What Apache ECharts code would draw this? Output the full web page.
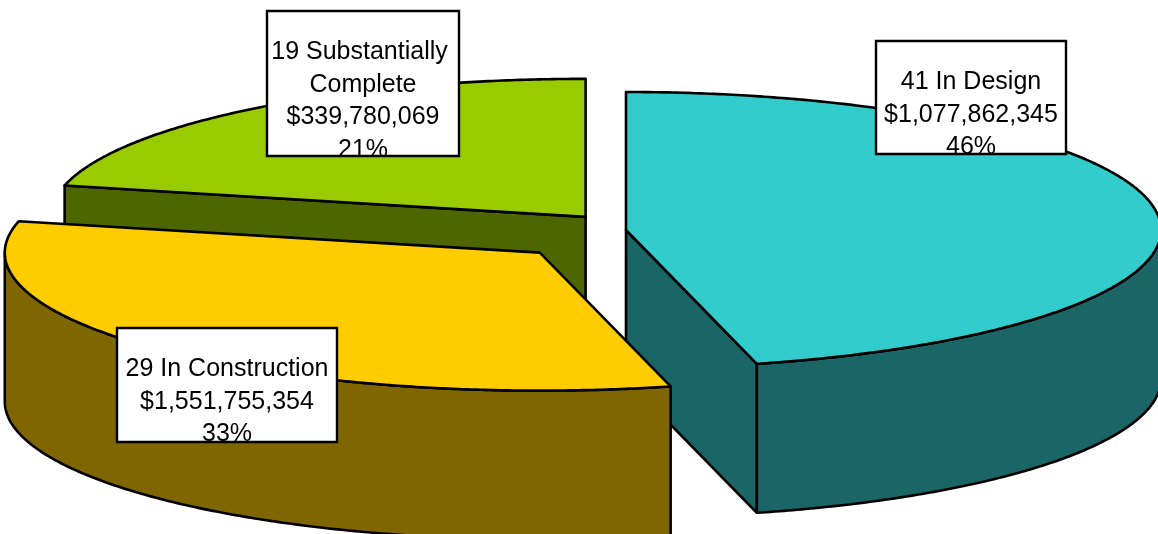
<!DOCTYPE html>
<html><head><meta charset="utf-8">
<script src="https://cdn.jsdelivr.net/npm/echarts@6/dist/echarts.min.js"></script>
<style>html,body{margin:0;padding:0;background:#fff}#chart{width:1158px;height:534px}</style>
</head><body><div id="chart"></div>
<script>
// ---- data ----
const categories = ['In Design', 'In Construction', 'Substantially Complete'];
const projectCounts = [41, 29, 19];
const dollarValues = [1077862345, 1551755354, 339780069];

// ---- styles / layout ----
const topColors = ['#33CCCC', '#FFCC00', '#99CC00'];
const sideColors = ['#1A6666', '#806600', '#4D6600'];
const explodeDist = [0, 123, 65];
const PIE = { cx: 626, cy: 230, rx: 535, ry: 138, depth: 149 };
const labelBoxes = [
  { x: 876, y: 41, w: 190, h: 113 },
  { x: 117, y: 328, w: 220, h: 114 },
  { x: 267, y: 11, w: 192, h: 145 }
];
const FONT = '25px "Liberation Sans", Arial, sans-serif';

const total = projectCounts.reduce((a, b) => a + b, 0);
const startAngles = [];
{ let acc = 0; projectCounts.forEach(v => { startAngles.push(acc / total * Math.PI * 2); acc += v; }); }

function sliceInfo(i) {
  const s = startAngles[i];
  const e = s + projectCounts[i] / total * Math.PI * 2;
  const mid = (s + e) / 2;
  const d = explodeDist[i];
  const c = { x: PIE.cx + d * Math.sin(mid), y: PIE.cy - d * Math.cos(mid) * PIE.ry / PIE.rx };
  return { s, e, mid, c };
}
function pt(c, t, dz) { return [c.x + PIE.rx * Math.sin(t), c.y - PIE.ry * Math.cos(t) + (dz || 0)]; }
function arc(c, a0, a1, dz) {
  const n = Math.max(2, Math.ceil(Math.abs(a1 - a0) / (Math.PI / 360)));
  const out = [];
  for (let k = 0; k <= n; k++) out.push(pt(c, a0 + (a1 - a0) * k / n, dz));
  return out;
}
// back-to-front rank
const order = projectCounts.map((_, i) => i).sort((a, b) => -Math.cos(sliceInfo(a).mid) + Math.cos(sliceInfo(b).mid));
const rank = []; order.forEach((idx, r) => rank[idx] = r);

function renderItem(params, api) {
  const i = params.dataIndex;
  const { s, e, c } = sliceInfo(i);
  const D = PIE.depth;
  const base = rank[i] * 10;
  const line = { stroke: '#000', lineWidth: 2.6, lineJoin: 'round' };
  const children = [];
  if (Math.sin(s) < -1e-6) {
    const p = pt(c, s);
    children.push({ type: 'polygon', z2: base + 1, shape: { points: [[c.x, c.y], p, [p[0], p[1] + D], [c.x, c.y + D]] }, style: Object.assign({ fill: sideColors[i] }, line) });
  }
  if (Math.sin(e) > 1e-6) {
    const p = pt(c, e);
    children.push({ type: 'polygon', z2: base + 1, shape: { points: [[c.x, c.y], p, [p[0], p[1] + D], [c.x, c.y + D]] }, style: Object.assign({ fill: sideColors[i] }, line) });
  }
  const lo = Math.max(s, Math.PI / 2), hi = Math.min(e, Math.PI * 1.5);
  if (hi > lo) {
    const pts = arc(c, lo, hi, 0).concat(arc(c, hi, lo, D));
    children.push({ type: 'polygon', z2: base + 2, shape: { points: pts }, style: Object.assign({ fill: sideColors[i] }, line) });
  }
  const topPts = [[c.x, c.y]].concat(arc(c, s, e, 0));
  children.push({ type: 'polygon', z2: base + 3, shape: { points: topPts }, style: Object.assign({ fill: topColors[i] }, line) });

  const b = labelBoxes[i];
  const pct = Math.round(projectCounts[i] / total * 100);
  const txt = projectCounts[i] + ' ' + api.value(1) + '\n$' + dollarValues[i].toLocaleString('en-US') + '\n' + pct + '%';
  children.push({ type: 'rect', z2: 100, shape: { x: b.x, y: b.y, width: b.w, height: b.h }, style: { fill: '#fff' } });
  children.push({ type: 'text', z2: 101, style: { text: txt, x: b.x + b.w / 2, y: b.y + 25, align: 'center', verticalAlign: 'top', font: FONT, lineHeight: 32.5, width: b.w - 4, overflow: 'break', fill: '#000' } });
  children.push({ type: 'rect', z2: 102, shape: { x: b.x, y: b.y, width: b.w, height: b.h }, style: { fill: 'none', stroke: '#000', lineWidth: 2.4 } });
  return { type: 'group', children };
}

const chart = echarts.init(document.getElementById('chart'), null, { renderer: 'canvas' });
chart.setOption({
  animation: false,
  backgroundColor: '#fff',
  series: [{
    type: 'custom',
    coordinateSystem: 'none',
    renderItem,
    data: projectCounts.map((v, i) => [v, categories[i]]),
    dimensions: ['count', { name: 'name', type: 'ordinal' }]
  }]
});
</script></body></html>
